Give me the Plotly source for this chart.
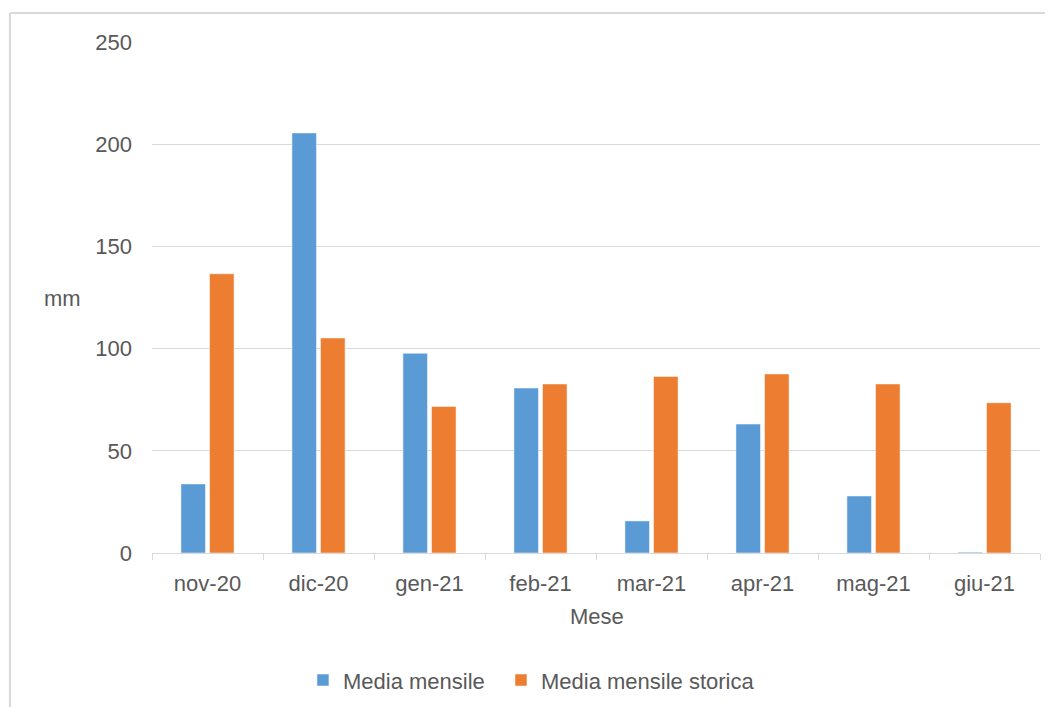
import plotly.graph_objects as go

mesi = ['nov-20', 'dic-20', 'gen-21', 'feb-21', 'mar-21', 'apr-21', 'mag-21', 'giu-21']
media_mensile = [33.8, 205.5, 97.7, 80.7, 15.7, 63.1, 27.9, 0.4]
media_storica = [136.6, 105.2, 71.7, 82.7, 86.4, 87.6, 82.7, 73.5]

FONT = 'Liberation Sans, Arial, sans-serif'
TXT = '#595959'
GRID = '#D9D9D9'
FS = 22

fig = go.Figure()
fig.add_trace(go.Bar(x=mesi, y=media_mensile, name='Media mensile', legend='legend',
                     marker=dict(color='#5B9BD5', line=dict(width=1, color='rgba(255,255,255,0.5)'))))
fig.add_trace(go.Bar(x=mesi, y=media_storica, name='Media mensile storica', legend='legend2',
                     marker=dict(color='#ED7D31', line=dict(width=1, color='rgba(255,255,255,0.5)'))))

leg = dict(orientation='h', xanchor='left', y=-0.249, yanchor='middle',
           font=dict(size=FS, color=TXT), itemwidth=30, bgcolor='rgba(0,0,0,0)')

# page body has an 8px margin, so the figure is shrunk by 8px to fit the window
fig.update_layout(
    width=1045, height=699,
    margin=dict(l=144, r=13, t=34, b=154, autoexpand=False),
    paper_bgcolor='white', plot_bgcolor='white',
    font=dict(family=FONT, size=FS, color=TXT),
    barmode='group', bargap=0.485, bargroupgap=0.14,
    showlegend=True,
    legend=dict(leg, x=0.17),
    legend2=dict(leg, x=0.393),
    xaxis=dict(showline=True, linecolor=GRID, linewidth=1, automargin=False,
               ticks='outside', tickson='boundaries', ticklen=6, tickcolor=GRID,
               showgrid=False, tickfont=dict(size=FS, color=TXT), ticklabelstandoff=11),
    yaxis=dict(range=[0, 250], dtick=50, showgrid=True, gridcolor=GRID, gridwidth=1,
               zeroline=False, showline=False, ticks='', automargin=False,
               tickfont=dict(size=FS, color=TXT), ticklabelstandoff=19),
    annotations=[
        dict(text='mm', x=-0.101, y=0.499, xref='paper', yref='paper', showarrow=False,
             xanchor='center', yanchor='middle', font=dict(size=FS, color=TXT)),
        dict(text='Mese', x=0.501, y=-0.125, xref='paper', yref='paper', showarrow=False,
             xanchor='center', yanchor='middle', font=dict(size=FS, color=TXT)),
    ],
    shapes=[
        dict(type='line', xref='paper', yref='paper', x0=-0.16, x1=-0.16, y0=-0.4, y1=1.0568,
             line=dict(color=GRID, width=2)),
        dict(type='line', xref='paper', yref='paper', x0=-0.16, x1=1.2, y0=1.0568, y1=1.0568,
             line=dict(color=GRID, width=2)),
    ],
)

fig.write_html('out.html')
